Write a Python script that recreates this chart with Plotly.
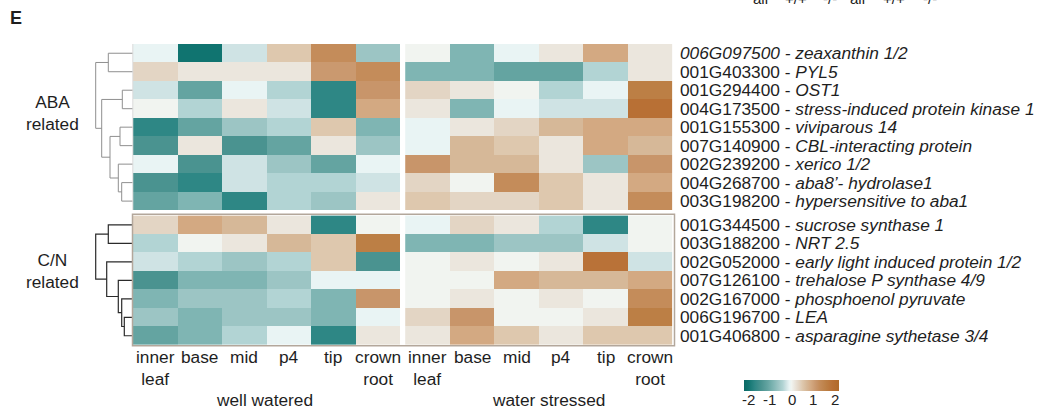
import plotly.graph_objects as go

W, H = 1063, 410
FONT = "Liberation Sans, Arial, sans-serif"

# ---------------- data ----------------
TISSUES = ["inner<br>leaf", "base", "mid", "p4", "tip", "crown<br>root"]
CONDITIONS = ["well watered", "water stressed"]

ABA_IDS = ["006G097500", "001G403300", "001G294400", "004G173500", "001G155300",
           "007G140900", "002G239200", "004G268700", "003G198200"]
ABA_NAMES = ["zeaxanthin 1/2", "PYL5", "OST1", "stress-induced protein kinase 1",
             "viviparous 14", "CBL-interacting protein", "xerico 1/2",
             "aba8\u2019- hydrolase1", "hypersensitive to aba1"]
ABA_ID_ITALIC = [True, False, False, False, False, False, False, False, False]

CN_IDS = ["001G344500", "003G188200", "002G052000", "007G126100",
          "002G167000", "006G196700", "001G406800"]
CN_NAMES = ["sucrose synthase 1", "NRT 2.5", "early light induced protein 1/2",
            "trehalose P synthase 4/9", "phosphoenol pyruvate", "LEA",
            "asparagine sythetase 3/4"]
CN_ID_ITALIC = [False] * 7

ABA_WW = [
    [-0.1, -2.0, -0.25, 0.5, 1.3, -0.6],
    [0.35, 0.15, 0.15, 0.15, 1.1, 1.3],
    [-0.25, -1.1, -0.1, -0.4, -1.7, 1.15],
    [0.0, -0.4, 0.15, -0.25, -1.7, 0.9],
    [-1.7, -1.1, -0.6, -0.4, 0.5, -0.85],
    [-1.4, 0.15, -1.4, -1.1, 0.15, -0.6],
    [-0.1, -1.4, -0.25, -0.6, -1.1, -0.1],
    [-1.4, -1.7, -0.25, -0.4, -0.4, -0.25],
    [-1.1, -0.85, -1.7, -0.4, -0.6, 0.15],
]
ABA_WS = [
    [0.0, -0.85, -0.1, 0.15, 0.9, 0.15],
    [-0.85, -0.85, -1.1, -1.1, -0.4, 0.15],
    [0.35, 0.15, 0.0, -0.4, -0.1, 1.6],
    [0.15, -0.85, -0.1, -0.25, -0.25, 1.9],
    [-0.1, 0.15, 0.35, 0.7, 0.9, 0.9],
    [-0.1, 0.7, 0.5, 0.15, 0.9, 0.7],
    [1.15, 0.7, 0.7, 0.15, -0.6, 1.15],
    [0.35, 0.0, 1.3, 0.5, 0.15, 0.9],
    [0.5, 0.35, 0.35, 0.5, 0.15, 1.3],
]
CN_WW = [
    [0.35, 0.9, 0.7, 0.15, -1.7, 0.0],
    [-0.4, 0.0, 0.15, 0.7, 0.5, 1.6],
    [-0.25, -0.4, -0.6, -0.4, 0.5, -1.4],
    [-1.4, -0.85, -0.85, -0.6, -0.1, -0.1],
    [-0.85, -0.6, -0.6, -0.4, -0.85, 1.15],
    [-0.6, -0.85, -0.6, -0.6, -0.85, -0.1],
    [-1.1, -0.85, -0.4, -0.1, -1.7, 0.15],
]
CN_WS = [
    [-0.1, 0.35, 0.15, -0.4, -1.7, 0.0],
    [-0.85, -0.85, -0.6, -0.6, -0.25, 0.0],
    [0.0, 0.15, 0.0, 0.15, 1.85, -0.25],
    [0.0, 0.0, 0.9, 0.7, 0.7, 0.9],
    [0.0, 0.15, 0.0, 0.15, 0.0, 1.3],
    [0.35, 1.15, 0.0, 0.0, 0.15, 1.6],
    [0.15, 0.9, 0.5, 0.15, 0.5, 0.5],
]

# dendrogram linkages (scipy style: child a, child b, height)
ABA_LINKAGE = [(0, 1, 2.47), (2, 3, 1.07), (4, 5, 1.30), (7, 8, 1.13),
               (6, 12, 1.47), (11, 13, 2.30), (10, 14, 3.13), (9, 15, 3.73)]
CN_LINKAGE = [(5, 6, 0.87), (4, 7, 1.13), (3, 8, 1.47), (2, 9, 2.63),
              (0, 1, 2.47), (11, 10, 3.73)]

CBAR_TICKS = [-2, -1, 0, 1, 2]
TOP_LABELS = ["all", "+/+", "-/-", "all", "+/+", "-/-"]

# ---------------- style ----------------
ZMIN, ZMAX = -2.2, 2.2
STOP_VALUES = [-2.2, -2.0, -1.7, -1.4, -1.1, -0.85, -0.6, -0.4, -0.25, -0.1, 0.0,
               0.15, 0.35, 0.5, 0.7, 0.9, 1.15, 1.3, 1.6, 1.9, 2.2]
STOP_COLORS = ["#0b6965", "#107470", "#2e8785", "#4a9390", "#64a4a1", "#7fb5b3",
               "#9cc5c4", "#b2d4d4", "#cfe3e4", "#e9f4f4", "#f1f4f0",
               "#ebe6dd", "#e3d5c4", "#dec8ae", "#d6b898", "#d3a982", "#c8956a",
               "#c48c5a", "#bc7f45", "#b87035", "#b06a2a"]
COLORSCALE = [[(v - ZMIN) / (ZMAX - ZMIN), c] for v, c in zip(STOP_VALUES, STOP_COLORS)]

COL_GAP = 0.112
ROW_GAP = 0.286
NC = len(TISSUES)
n_aba, n_cn = len(ABA_IDS), len(CN_IDS)

ww_edges = [i for i in range(NC + 1)]
ws_edges = [NC + COL_GAP + i for i in range(NC + 1)]
aba_edges = [i for i in range(n_aba + 1)]
cn_edges = [n_aba + ROW_GAP + i for i in range(n_cn + 1)]
aba_centers = [i + 0.5 for i in range(n_aba)]
cn_centers = [n_aba + ROW_GAP + i + 0.5 for i in range(n_cn)]
Y_TOTAL = n_aba + ROW_GAP + n_cn
X_TOTAL = 2 * NC + COL_GAP

CB_X0, CB_X1 = 744.0, 839.0   # colorbar pixel extent
CB_TOP, CB_THICK = 380.0, 11


def px_x(p):
    return p / W


def px_y(p):
    return 1 - p / H


fig = go.Figure()

common = dict(zmin=ZMIN, zmax=ZMAX, colorscale=COLORSCALE, hoverinfo="skip")
fig.add_trace(go.Heatmap(z=ABA_WW, x=ww_edges, y=aba_edges, showscale=False, **common))
fig.add_trace(go.Heatmap(z=ABA_WS, x=ws_edges, y=aba_edges, showscale=False, **common))
fig.add_trace(go.Heatmap(z=CN_WW, x=ww_edges, y=cn_edges, showscale=False, **common))
fig.add_trace(go.Heatmap(
    z=CN_WS, x=ws_edges, y=cn_edges, showscale=True,
    colorbar=dict(orientation="h", x=px_x((CB_X0 + CB_X1) / 2), xanchor="center",
                  y=px_y(CB_TOP), yanchor="top", len=CB_X1 - CB_X0, lenmode="pixels",
                  thickness=CB_THICK, thicknessmode="pixels", outlinewidth=0,
                  xpad=0, ypad=0, showticklabels=False, ticks=""),
    **common))


def dendro(linkage, leaf_y):
    n = len(leaf_y)
    pos = {i: (0.0, leaf_y[i]) for i in range(n)}
    xs, ys = [], []
    for k, (a, b, h) in enumerate(linkage):
        ha, ya = pos[a]
        hb, yb = pos[b]
        xs += [ha, h, h, hb, None]
        ys += [ya, ya, yb, yb, None]
        pos[n + k] = (h, (ya + yb) / 2)
    return xs, ys


dx, dy = dendro(ABA_LINKAGE, aba_centers)
fig.add_trace(go.Scatter(x=dx, y=dy, mode="lines", xaxis="x2", yaxis="y",
                         line=dict(color="#8f8f8f", width=1), hoverinfo="skip",
                         showlegend=False))
dx, dy = dendro(CN_LINKAGE, cn_centers)
fig.add_trace(go.Scatter(x=dx, y=dy, mode="lines", xaxis="x2", yaxis="y",
                         line=dict(color="#2b2b2b", width=1.2), hoverinfo="skip",
                         showlegend=False))

ann = []
txt = dict(family=FONT, size=17.3, color="#1e1e1e")


def row_label(gid, name, it):
    if it:
        return "<i>%s - %s</i>" % (gid, name)
    return "%s - <i>%s</i>" % (gid, name)


for ids, names, its, centers in [(ABA_IDS, ABA_NAMES, ABA_ID_ITALIC, aba_centers),
                                 (CN_IDS, CN_NAMES, CN_ID_ITALIC, cn_centers)]:
    for gid, nm, it, yc in zip(ids, names, its, centers):
        ann.append(dict(x=px_x(678), xref="paper", y=yc, yref="y", xanchor="left",
                        yanchor="middle", text=row_label(gid, nm, it), showarrow=False,
                        font=txt))

for block in range(2):
    off = 0 if block == 0 else NC + COL_GAP
    for i, t in enumerate(TISSUES):
        ann.append(dict(x=off + i + 0.5, xref="x", y=px_y(345), yref="paper",
                        xanchor="center", yanchor="top", text=t, showarrow=False,
                        font=txt, align="center"))

ann.append(dict(x=px_x(264), xref="paper", y=px_y(399.5), yref="paper", xanchor="center",
                yanchor="middle", text=CONDITIONS[0], showarrow=False, font=txt,
                borderpad=0))
ann.append(dict(x=px_x(548), xref="paper", y=px_y(399.5), yref="paper", xanchor="center",
                yanchor="middle", text=CONDITIONS[1], showarrow=False, font=txt,
                borderpad=0))

ann.append(dict(x=px_x(52), xref="paper", y=px_y(113), yref="paper",
                xanchor="center", yanchor="middle", text="ABA<br>related",
                showarrow=False, font=txt, align="center"))
ann.append(dict(x=px_x(52), xref="paper", y=px_y(271), yref="paper",
                xanchor="center", yanchor="middle", text="C/N<br>related",
                showarrow=False, font=txt, align="center"))

ann.append(dict(x=px_x(16), xref="paper", y=px_y(18), yref="paper", xanchor="center",
                yanchor="middle", text="<b>E</b>", showarrow=False,
                font=dict(family=FONT, size=18, color="#1e1e1e")))

# colorbar tick labels, placed along the colour scale
for t in CBAR_TICKS:
    cx = CB_X0 + (t - ZMIN) / (ZMAX - ZMIN) * (CB_X1 - CB_X0)
    ann.append(dict(x=px_x(cx), xref="paper", y=px_y(399), yref="paper",
                    xanchor="center", yanchor="middle", text=str(t),
                    showarrow=False, font=dict(family=FONT, size=15, color="#222"),
                    borderpad=0))

for lab, cx in zip(TOP_LABELS, [760, 796, 830, 857.5, 894, 929.5]):
    ann.append(dict(x=px_x(cx), xref="paper", y=px_y(9), yref="paper",
                    xanchor="center", yanchor="bottom", text=lab, showarrow=False,
                    font=dict(family=FONT, size=15, color="#222")))

shapes = [
    dict(type="rect", xref="paper", yref="paper", x0=px_x(132.5), x1=px_x(674.5),
         y0=px_y(214.3), y1=px_y(345.7), line=dict(color="#b3a79b", width=1.5)),
    dict(type="line", xref="paper", yref="paper", x0=px_x(132.8), x1=px_x(132.8),
         y0=px_y(44), y1=px_y(210), line=dict(color="#dadada", width=1)),
]

fig.update_layout(
    width=W, height=H, margin=dict(l=0, r=0, t=0, b=0),
    paper_bgcolor="white", plot_bgcolor="white",
    xaxis=dict(domain=[px_x(133), px_x(672.5)], range=[0, X_TOTAL], visible=False,
               anchor="y", fixedrange=True),
    xaxis2=dict(domain=[px_x(95), px_x(133)], range=[3.8, 0], visible=False,
                anchor="y", fixedrange=True),
    yaxis=dict(domain=[px_y(345), px_y(44)], range=[Y_TOTAL, 0], visible=False,
               anchor="x", fixedrange=True),
    annotations=ann, shapes=shapes, showlegend=False,
)

fig.write_html("out.html")
